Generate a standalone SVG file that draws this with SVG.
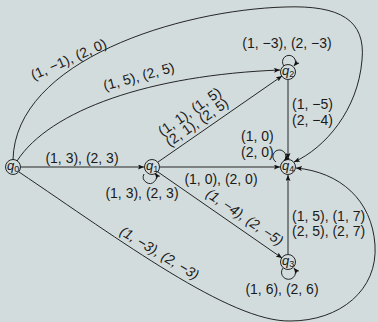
<svg xmlns="http://www.w3.org/2000/svg" width="378" height="322" viewBox="0 0 378 322">
<defs>
<style>
.bg{fill:#d3dcdc}
.e{fill:none;stroke:#111;stroke-width:0.9;marker-end:url(#ah)}
.n{fill:none;stroke:#111;stroke-width:0.9}
.t{font-family:"Liberation Sans",Arial,sans-serif;font-size:14px;fill:#1a1a1a}
.m{text-anchor:middle}
.q{font-family:"Liberation Sans",Arial,sans-serif;font-size:13px;font-style:italic;fill:#1a1a1a}
.s{font-size:9px;font-style:normal}
.it{font-style:italic}
</style>
<marker id="ah" viewBox="0 0 6 5" refX="6" refY="2.5" markerWidth="6" markerHeight="5" markerUnits="userSpaceOnUse" orient="auto">
<path d="M0,0 L6,2.5 L0,5 L1.3,2.5 z" fill="#111"/>
</marker>
</defs>
<rect class="bg" x="0" y="0" width="378" height="322"/>
<g id="connectors">
<path class="e" d="M21,167 L144,167"/>
<path class="e" d="M160,167 L280,167"/>
<path class="e" d="M158,162 L282,76"/>
<path class="e" d="M158,172 L282,258"/>
<path class="e" d="M288,80 L288,159"/>
<path class="e" d="M288,254 L288,175"/>
<path class="e" d="M17,161 C 50,110 150,75 280,70"/>
<path class="e" d="M13,160 C 15,60 180,10 285,7 C 340,5 366,20 362,60 C 358,110 325,148 294,162"/>
<path class="e" d="M19,172 C 120,240 230,322 290,321 C 340,321 378,290 375,245 C 372,200 340,172 296,168"/>
<path class="e" d="M144,174 A6.5,6.5 0 1 0 155,173"/>
<path class="e" d="M284,66 A6.5,6.5 0 1 1 294,66"/>
<path class="e" d="M276,162 A6.5,6.5 0 1 1 284,161"/>
<path class="e" d="M283,268 A7,7 0 1 0 294,268"/>
</g>
<g id="q0"><circle class="n" cx="13" cy="167" r="7.5"/><text class="q" x="7" y="170">q<tspan class="s" dy="2">0</tspan></text></g>
<g id="q1"><circle class="n" cx="152" cy="167" r="7.5"/><text class="q" x="146" y="170">q<tspan class="s" dy="2">1</tspan></text></g>
<g id="q2"><circle class="n" cx="288" cy="72" r="7.5"/><text class="q" x="282" y="75">q<tspan class="s" dy="2">2</tspan></text></g>
<g id="q4"><circle class="n" cx="288" cy="167" r="7.5"/><text class="q" x="282" y="170">q<tspan class="s" dy="2">4</tspan></text></g>
<g id="q3"><circle class="n" cx="288" cy="262" r="7.5"/><text class="q" x="282" y="265">q<tspan class="s" dy="2">3</tspan></text></g>
<g id="labels">
<text class="t m" x="82" y="163">(1, 3), (2, 3)</text>
<text class="t m" x="142" y="198">(1, 3), (2, 3)</text>
<text class="t m" x="221" y="184">(1, 0), (2, 0)</text>
<text class="t m" x="287" y="48">(1, −3), (2, −3)</text>
<text class="t" x="292" y="109">(1, −5)</text>
<text class="t" x="292" y="125">(2, −4)</text>
<text class="t" x="241" y="141">(1, 0)</text>
<text class="t" x="241" y="157">(2, 0)</text>
<text class="t" x="292" y="221">(1, 5), (1, 7)</text>
<text class="t" x="292" y="236">(2, 5), (2, 7)</text>
<text class="t m" x="282" y="294">(1, 6), (2, 6)</text>
<text class="t m" transform="translate(70.6,63.7) rotate(-24)">(1, −1), (2, 0)</text>
<text class="t m" transform="translate(140,81) rotate(-15)">(1, 5), (2, 5)</text>
<text class="t m" transform="translate(194,118) rotate(-35)"><tspan x="0" y="-3">(1, 1), (1, 5)</tspan><tspan x="0" y="10">(2, 1), (2, 5)</tspan></text>
<text class="t m it" transform="translate(242,221) rotate(34)">(1, −4), (2, −5)</text>
<text class="t m it" transform="translate(157,257) rotate(31)">(1, −3), (2, −3)</text>
</g>
</svg>
